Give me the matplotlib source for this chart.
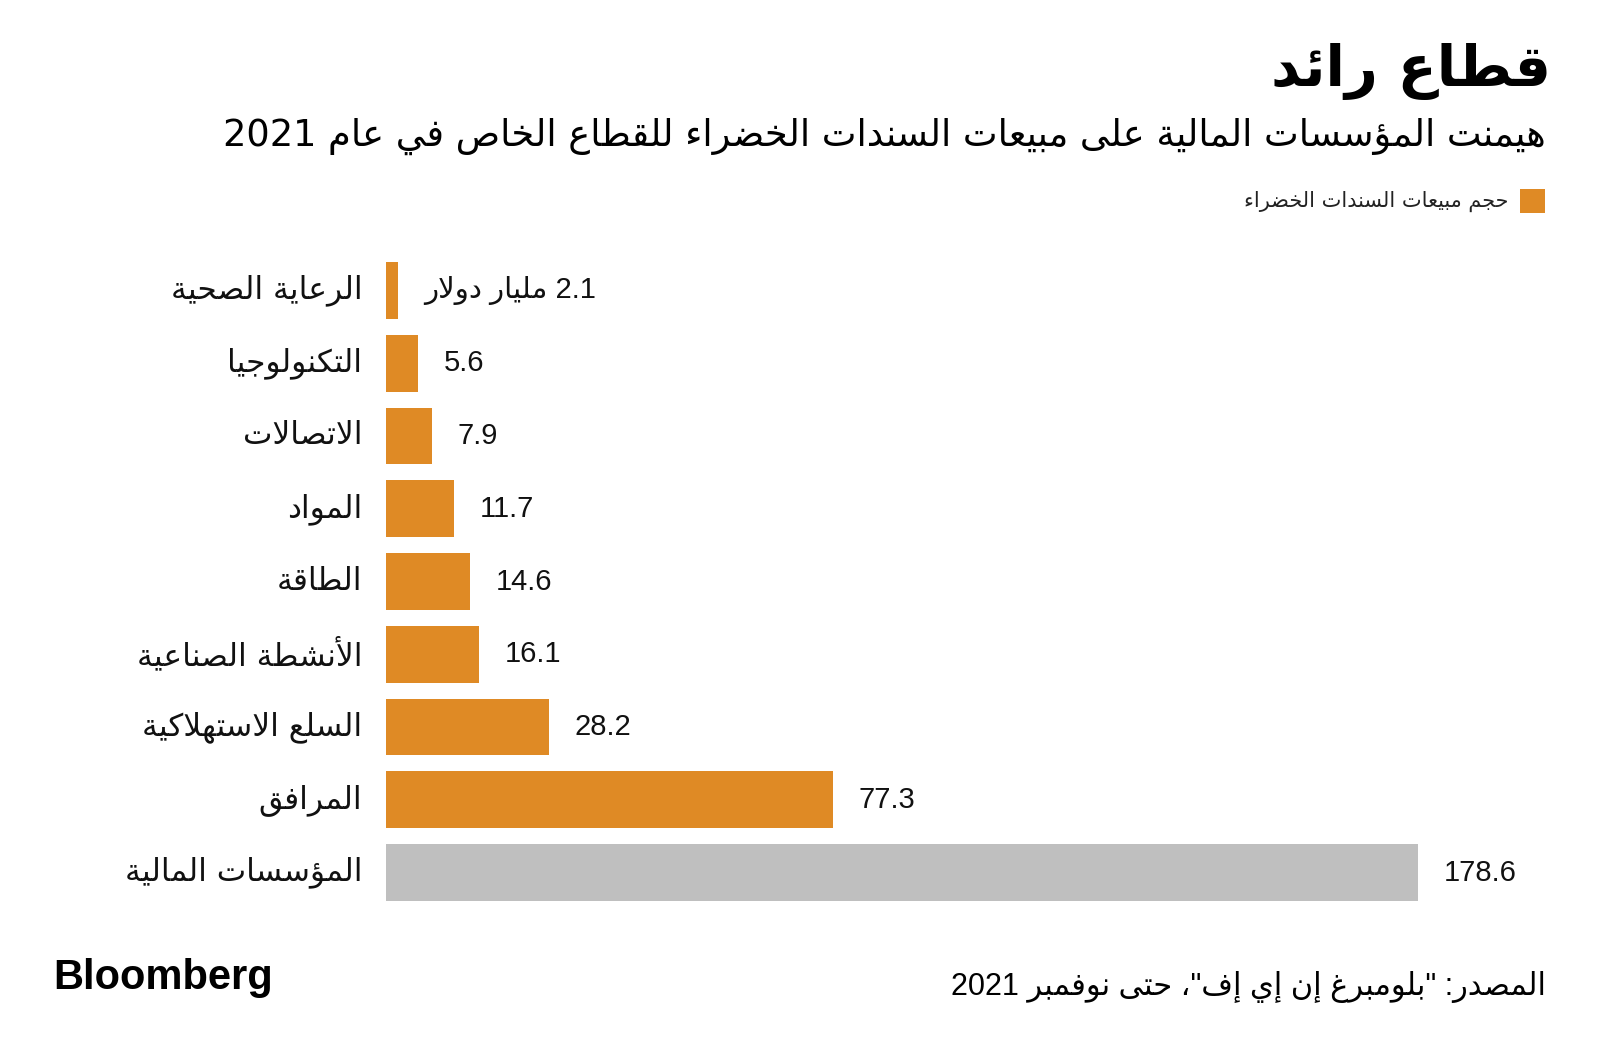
import re
import matplotlib
matplotlib.use("Agg")
import matplotlib.pyplot as plt

# ---------------- data ----------------
categories = ["الرعاية الصحية", "التكنولوجيا", "الاتصالات", "المواد", "الطاقة",
              "الأنشطة الصناعية", "السلع الاستهلاكية", "المرافق", "المؤسسات المالية"]
values = [2.1, 5.6, 7.9, 11.7, 14.6, 16.1, 28.2, 77.3, 178.6]
value_labels = ["2.1 مليار دولار", "5.6", "7.9", "11.7", "14.6", "16.1", "28.2", "77.3", "178.6"]
highlight = [False] * 8 + [True]

title = "قطاع رائد"
subtitle = "هيمنت المؤسسات المالية على مبيعات السندات الخضراء للقطاع الخاص في عام 2021"
legend_label = "حجم مبيعات السندات الخضراء"
source = 'المصدر: "بلومبرغ إن إي إف"، حتى نوفمبر 2021'
brand = "Bloomberg"

ORANGE = "#DF8A25"
GREY = "#BFBFBF"

# ---------------- minimal Arabic shaping + visual ordering ----------------
DUAL = {'ئ': 0xFE89, 'ب': 0xFE8F, 'ت': 0xFE95, 'ث': 0xFE99, 'ج': 0xFE9D, 'ح': 0xFEA1,
        'خ': 0xFEA5, 'س': 0xFEB1, 'ش': 0xFEB5, 'ص': 0xFEB9, 'ض': 0xFEBD, 'ط': 0xFEC1,
        'ظ': 0xFEC5, 'ع': 0xFEC9, 'غ': 0xFECD, 'ف': 0xFED1, 'ق': 0xFED5, 'ك': 0xFED9,
        'ل': 0xFEDD, 'م': 0xFEE1, 'ن': 0xFEE5, 'ه': 0xFEE9, 'ي': 0xFEF1}
RIGHT = {'آ': 0xFE81, 'أ': 0xFE83, 'ؤ': 0xFE85, 'إ': 0xFE87, 'ا': 0xFE8D, 'ة': 0xFE93,
         'د': 0xFEA9, 'ذ': 0xFEAB, 'ر': 0xFEAD, 'ز': 0xFEAF, 'و': 0xFEED, 'ى': 0xFEEF}
NONJ = {'ء': 0xFE80}
LAMALEF = {'آ': 0xFEF5, 'أ': 0xFEF7, 'إ': 0xFEF9, 'ا': 0xFEFB}


def joins(c):
    return c in DUAL or c in RIGHT


def shape(text):
    out = []
    i = 0
    n = len(text)
    while i < n:
        c = text[i]
        prev = text[i - 1] if i > 0 else ''
        nxt = text[i + 1] if i + 1 < n else ''
        jp = prev in DUAL and joins(c)
        if c == 'ل' and nxt in LAMALEF:
            out.append(chr(LAMALEF[nxt] + (1 if jp else 0)))
            i += 2
            continue
        if c in DUAL:
            jn = joins(nxt)
            form = 3 if (jp and jn) else 1 if jp else 2 if jn else 0
            out.append(chr(DUAL[c] + form))
        elif c in RIGHT:
            out.append(chr(RIGHT[c] + (1 if jp else 0)))
        elif c in NONJ:
            out.append(chr(NONJ[c]))
        else:
            out.append(c)
        i += 1
    return ''.join(out)


def ar(text):
    s = shape(text)
    tokens = re.findall(r'[0-9A-Za-z]+(?:[.,][0-9]+)*|.', s)
    return ''.join(reversed(tokens))


AR_FONT = ['DejaVu Sans']
NUM_FONT = ['Liberation Sans', 'DejaVu Sans']

# ---------------- figure ----------------
W, H = 1600, 1054
fig = plt.figure(figsize=(W / 100, H / 100), dpi=100)
fig.patch.set_facecolor("white")

ax_left, ax_right = 386, 1542
ax_top, ax_bottom = 254, 909
ax = fig.add_axes([ax_left / W, 1 - ax_bottom / H, (ax_right - ax_left) / W, (ax_bottom - ax_top) / H])
px_per_unit = 5.78
ax.set_xlim(0, (ax_right - ax_left) / px_per_unit)
ax.set_ylim(len(categories) - 0.5, -0.5)
ax.axis("off")

ypos = list(range(len(categories)))
colors = [GREY if h else ORANGE for h in highlight]
ax.barh(ypos, values, height=0.78, color=colors, edgecolor="none")

for y, v, lab in zip(ypos, values, value_labels):
    ax.annotate(ar(lab), xy=(v, y), xytext=(18.5, 0), textcoords="offset points",
                ha="left", va="center", fontsize=21, family=NUM_FONT, color="#111111")

for y, cat in zip(ypos, categories):
    ax.annotate(ar(cat), xy=(0, y), xytext=(-17, 0), textcoords="offset points",
                ha="right", va="center", fontsize=22.5, family=AR_FONT, color="#111111")

# titles
fig.text(1551 / W, 1 - 72 / H, ar(title), ha="right", va="center", fontsize=41,
         fontweight="bold", family=AR_FONT, color="black")
fig.text(1546 / W, 1 - 136 / H, ar(subtitle), ha="right", va="center", fontsize=26.5,
         family=AR_FONT, color="black")

# legend
fig.patches.append(plt.Rectangle((1520 / W, 1 - 213 / H), 25 / W, 24 / H,
                                 transform=fig.transFigure, color=ORANGE, lw=0))
fig.text(1508 / W, 1 - 201 / H, ar(legend_label), ha="right", va="center", fontsize=15,
         family=AR_FONT, color="#222222")

# footer
fig.text(1546 / W, 1 - 987 / H, ar(source), ha="right", va="center", fontsize=22,
         family=NUM_FONT, color="black")
fig.text(53 / W, 1 - 978 / H, brand, ha="left", va="center", fontsize=30,
         fontweight="bold", family=['Liberation Sans', 'DejaVu Sans'], color="black")

fig.savefig("out.png", dpi=100, facecolor="white")
